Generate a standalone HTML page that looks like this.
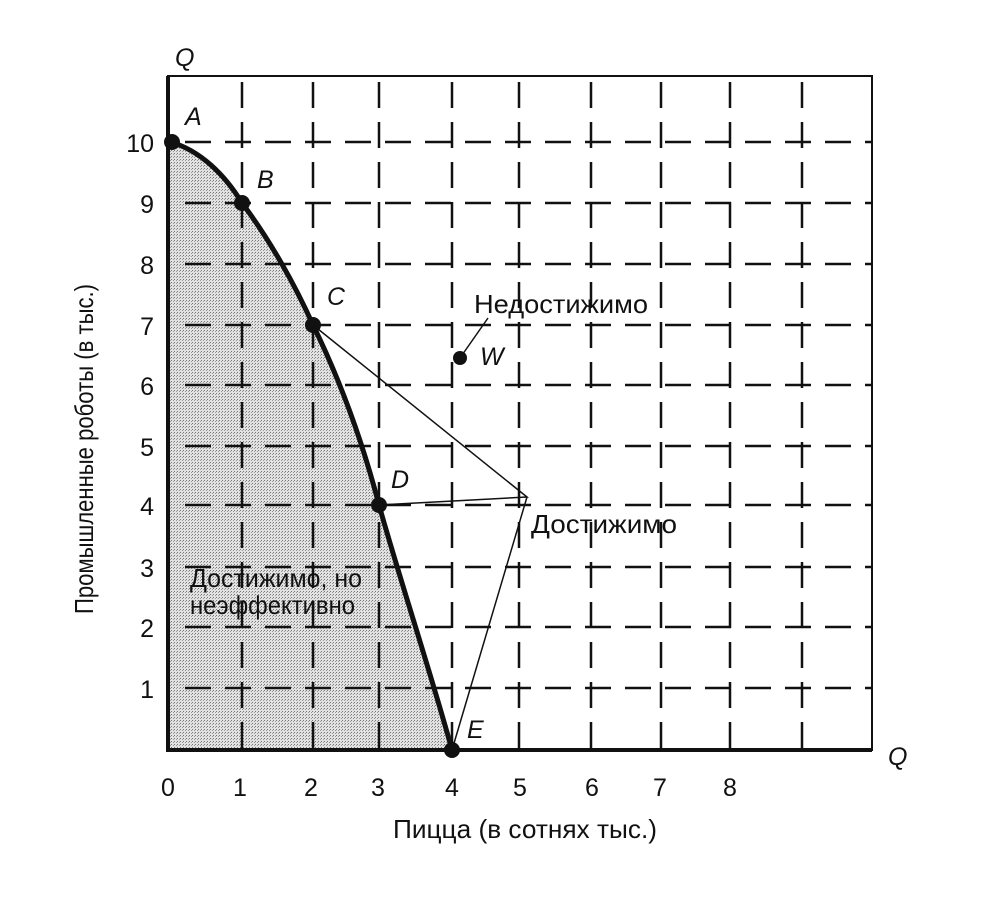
<!DOCTYPE html>
<html><head><meta charset="utf-8"><style>
body{margin:0;background:#fff}
text{font-family:"Liberation Sans","DejaVu Sans",sans-serif;fill:#111}
</style></head><body>
<svg width="984" height="910" viewBox="0 0 984 910" xmlns="http://www.w3.org/2000/svg">
<defs>
<pattern id="dots" width="3" height="3" patternUnits="userSpaceOnUse">
<rect width="3" height="3" fill="#e2e2e2"/>
<rect width="1" height="1" fill="#777"/>
<rect x="2" y="1" width="1" height="1" fill="#999"/>
</pattern>
</defs>
<path d="M170,142 C200,150 225,175 242,203 C270,240 295,285 313,325 C340,380 362,440 379,505 C400,580 430,670 452,750 L170,750 Z" fill="url(#dots)"/>
<g stroke="#111" stroke-width="2.5" stroke-dasharray="26 14" fill="none">
<path d="M185,142H872M185,203H872M185,264H872M185,325H872M185,385H872M185,446H872M185,505H872M185,567H872M185,627H872M185,688H872"/>
<path d="M242,82V750M313,82V750M379,82V750M452,82V750M519,82V750M591,82V750M661,82V750M730,82V750M802,82V750"/>
</g>
<path d="M168,76H872V750H168Z" fill="none" stroke="#111" stroke-width="2"/>
<path d="M168,76V750H872" fill="none" stroke="#111" stroke-width="4"/>
<path d="M170,142 C200,150 225,175 242,203 C270,240 295,285 313,325 C340,380 362,440 379,505 C400,580 430,670 452,750" fill="none" stroke="#111" stroke-width="5"/>
<path d="M313,325L527,497L379,505M527,497L452,750M460,358L488,318" fill="none" stroke="#111" stroke-width="1.5"/>
<g fill="#111"><circle cx="172" cy="142" r="8"/><circle cx="242" cy="203" r="8"/><circle cx="313" cy="325" r="8"/><circle cx="379" cy="505" r="8"/><circle cx="452" cy="750" r="8"/><circle cx="460" cy="358" r="7"/></g>
<g font-size="25" font-style="italic">
<text x="175" y="66">Q</text><text x="888" y="765">Q</text>
<text x="185" y="125">A</text><text x="257" y="188">B</text><text x="327" y="305">C</text>
<text x="391" y="488">D</text><text x="467" y="738">E</text><text x="480" y="365">W</text>
</g>
<g font-size="25" text-anchor="middle">
<text x="168" y="796">0</text><text x="240" y="796">1</text><text x="311" y="796">2</text><text x="378" y="796">3</text><text x="452" y="796">4</text><text x="520" y="796">5</text><text x="592" y="796">6</text><text x="660" y="796">7</text><text x="730" y="796">8</text>
</g>
<g font-size="25" text-anchor="end">
<text x="154" y="152">10</text><text x="154" y="213">9</text><text x="154" y="274">8</text><text x="154" y="335">7</text><text x="154" y="395">6</text><text x="154" y="456">5</text><text x="154" y="515">4</text><text x="154" y="577">3</text><text x="154" y="637">2</text><text x="154" y="698">1</text>
</g>
<g font-size="26">
<text x="474" y="313" textLength="174" lengthAdjust="spacingAndGlyphs">Недостижимо</text>
<text x="531" y="533" textLength="146" lengthAdjust="spacingAndGlyphs">Достижимо</text>
<text x="190" y="587" textLength="172" lengthAdjust="spacingAndGlyphs">Достижимо, но</text>
<text x="190" y="614" textLength="165" lengthAdjust="spacingAndGlyphs">неэффективно</text>
<text x="393" y="838" textLength="264" lengthAdjust="spacingAndGlyphs">Пицца (в сотнях тыс.)</text>
<text transform="translate(93,614) rotate(-90)" textLength="330" lengthAdjust="spacingAndGlyphs">Промышленные роботы (в тыс.)</text>
</g>
</svg>
</body></html>
